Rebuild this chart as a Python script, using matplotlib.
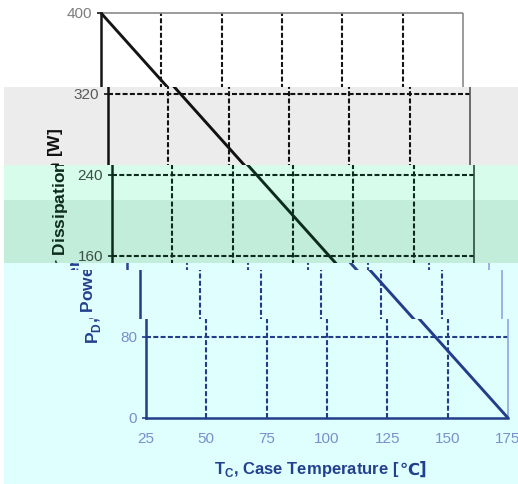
import matplotlib
matplotlib.use("Agg")
import matplotlib.pyplot as plt
from matplotlib.transforms import offset_copy

# ---- data ----
case_temp = [25, 175]          # Tc [degC]
power_diss = [400, 0]          # Pd [W]
x_ticks = [25, 50, 75, 100, 125, 150, 175]
y_ticks = [0, 80, 160, 240, 320, 400]
x_label_main = "T$_\\mathregular{C}$, Case Temperature ["
x_label_unit = "\u2103]"
y_label = "P$_\\mathregular{D}$, Power Dissipation [W]"

plt.rcParams['font.family'] = ['Liberation Sans', 'DejaVu Sans']
plt.rcParams['mathtext.fontset'] = 'custom'
plt.rcParams['mathtext.rm'] = 'Liberation Sans'
plt.rcParams['mathtext.bf'] = 'Liberation Sans:bold'

W, H, DPI = 518, 485, 100
fig = plt.figure(figsize=(W / DPI, H / DPI), dpi=DPI)
fig.patch.set_facecolor('white')

AX_L, AX_R = 101, 463          # pixel x of 25 and 175 in unshifted chart
SX = (AX_R - AX_L) / (x_ticks[-1] - x_ticks[0])
SY = 1.01

# (y_top, y_bot, x-shift, y0, background, line, tick text, label text, light frame, x start)
bands = [
    (0, 88, 0, 14.0, '#ffffff', '#151515', '#7d7d7d', '#151515', '#8a8a8a', 0),
    (88, 166, 7, 14.0, '#ececec', '#111111', '#5a5a5a', '#111111', '#555555', 4),
    (166, 201, 11, 14.5, '#d7fcec', '#0d2a1f', '#3b5046', '#0d2a1f', '#2f4a3e', 4),
    (201, 264, 11, 14.5, '#c2eddb', '#0d2a1f', '#3b5046', '#0d2a1f', '#2f4a3e', 4),
    (264, 271, 26, 14.5, '#dffefe', '#2a4590', '#7a8fcb', '#23408f', '#8fa6e0', 4),
    (271, 320, 39, 14.5, '#e0fefe', '#233d8a', '#7a8fcb', '#23408f', '#8fa6e0', 4),
    (320, 485, 45, 15.0, '#dffefe', '#233d8a', '#7a8fcb', '#23408f', '#8fa6e0', 4),
]

x0, x1 = x_ticks[0], x_ticks[-1]
y0v, y1v = y_ticks[0], y_ticks[-1]
DASH = (0, (2.4, 1.1))
YLAB_CENTER = 181

for (yt, yb, dx, y0, bg, lc, tc, labc, fc, xs) in bands:
    ax = fig.add_axes([xs / W, 1 - yb / H, (W - xs) / W, (yb - yt) / H])
    ax.set_facecolor(bg)
    for s in ax.spines.values():
        s.set_visible(False)
    ax.set_xticks([])
    ax.set_yticks([])
    left_px = AX_L + dx
    ax.set_xlim(x0 + (xs - left_px) / SX, x0 + (W - left_px) / SX)
    lo, hi = y1v - (yb - y0) / SY, y1v - (yt - y0) / SY
    ax.set_ylim(lo, hi)

    # grid
    ax.vlines(x_ticks[1:-1], y0v, y1v, colors=lc, lw=1.5, linestyles=DASH)
    ax.hlines(y_ticks[1:-1], x0, x1, colors=lc, lw=1.5, linestyles=DASH)
    # frame
    ax.plot([x0, x1], [y1v, y1v], color=fc, lw=1.2, solid_capstyle='butt')
    ax.plot([x1, x1], [y0v, y1v], color=fc, lw=1.2, solid_capstyle='butt')
    ax.plot([x0, x0], [y0v, y1v], color=lc, lw=1.8, solid_capstyle='projecting')
    ax.plot([x0, x1], [y0v, y0v], color=lc, lw=1.8, solid_capstyle='projecting')
    ax.plot([x0] * len(y_ticks), y_ticks, ls='none', marker=0, ms=3, mew=1.2, color=lc)
    # derating curve
    ax.plot(case_temp, power_diss, color=lc, lw=2.1, solid_capstyle='butt')

    # y tick labels (only where visible in this strip)
    ytr = offset_copy(ax.transData, fig=fig, x=-9, y=0, units='dots')
    for v in y_ticks:
        if lo - 8 <= v <= hi + 8:
            ax.text(x0, v, str(v), transform=ytr, ha='right', va='center',
                    fontsize=11, color=tc, clip_on=True)
    # x tick labels and x label (bottom strip only)
    if lo < y0v - 40:
        xtr = offset_copy(ax.transData, fig=fig, x=0, y=-20, units='dots')
        for t in x_ticks:
            ax.text(t, y0v, str(t), transform=xtr, ha='center', va='center',
                    fontsize=11, color=tc, clip_on=True)
        xltr = offset_copy(ax.transData, fig=fig, x=68, y=-51, units='dots')
        main = ax.text(x0, y0v, x_label_main, transform=xltr, ha='left', va='center',
                       fontsize=12, fontweight='bold', color=labc, clip_on=True)
        ax.annotate(x_label_unit, xy=(1, 0.5), xycoords=main, ha='left', va='center',
                    fontsize=12, fontweight='bold', color=labc,
                    family=['DejaVu Sans'], clip_on=True, annotation_clip=False)
    # y label (strips it passes through)
    if lo < YLAB_CENTER + 110 and hi > YLAB_CENTER - 110:
        yltr = offset_copy(ax.transData, fig=fig, x=-52, y=0, units='dots')
        ax.text(x0, YLAB_CENTER, y_label, transform=yltr, ha='center', va='center',
                rotation=90, fontsize=12.5, fontweight='bold', color=labc, clip_on=True)

fig.savefig('out.png', dpi=DPI)
